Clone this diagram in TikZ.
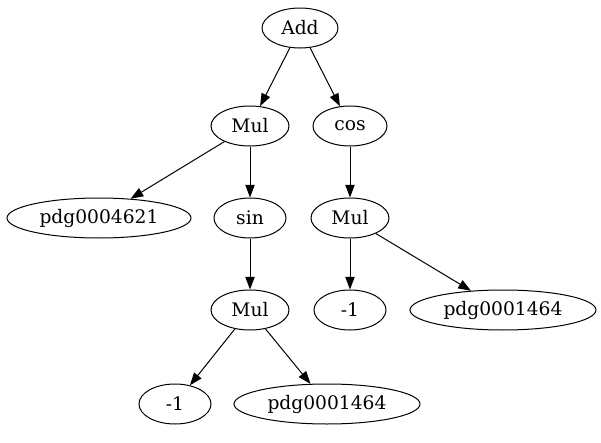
\documentclass[tikz,border=0pt]{standalone}
\usepackage{fontspec}
\setmainfont{DejaVu Serif}
\usetikzlibrary{shapes.geometric,arrows.meta}
\begin{document}
\begin{tikzpicture}[x=0.75pt,y=-0.75pt,
  nd/.style={ellipse,draw,line width=0.75pt,inner sep=0pt,minimum height=30pt,font=\fontsize{14}{16}\selectfont},
  w/.style={minimum width=#1*0.75pt},
  edge/.style={line width=0.75pt,-{Triangle[length=9.5pt,width=7pt]}}]
\useasboundingbox (0,0) rectangle (601,443);
\node[nd,w=76] (add) at (300,28) {Add};
\node[nd,w=78] (mul1) at (250,126) {Mul};
\node[nd,w=74] (cos) at (350,126) {cos};
\node[nd,w=184] (pdgA) at (99,218) {pdg0004621};
\node[nd,w=72] (sin) at (250,218) {sin};
\node[nd,w=78] (mul2) at (350,218) {Mul};
\node[nd,w=78] (mul3) at (250,310) {Mul};
\node[nd,w=72] (m1a) at (350,310) {-1};
\node[nd,w=186] (pdgB) at (503,310) {pdg0001464};
\node[nd,w=72] (m1b) at (175,404) {-1};
\node[nd,w=186] (pdgC) at (327,404) {pdg0001464};
\draw[edge] (add) -- (mul1);
\draw[edge] (add) -- (cos);
\draw[edge] (mul1) -- (pdgA);
\draw[edge] (mul1) -- (sin);
\draw[edge] (cos) -- (mul2);
\draw[edge] (sin) -- (mul3);
\draw[edge] (mul2) -- (m1a);
\draw[edge] (mul2) -- (pdgB);
\draw[edge] (mul3) -- (m1b);
\draw[edge] (mul3) -- (pdgC);
\end{tikzpicture}
\end{document}
